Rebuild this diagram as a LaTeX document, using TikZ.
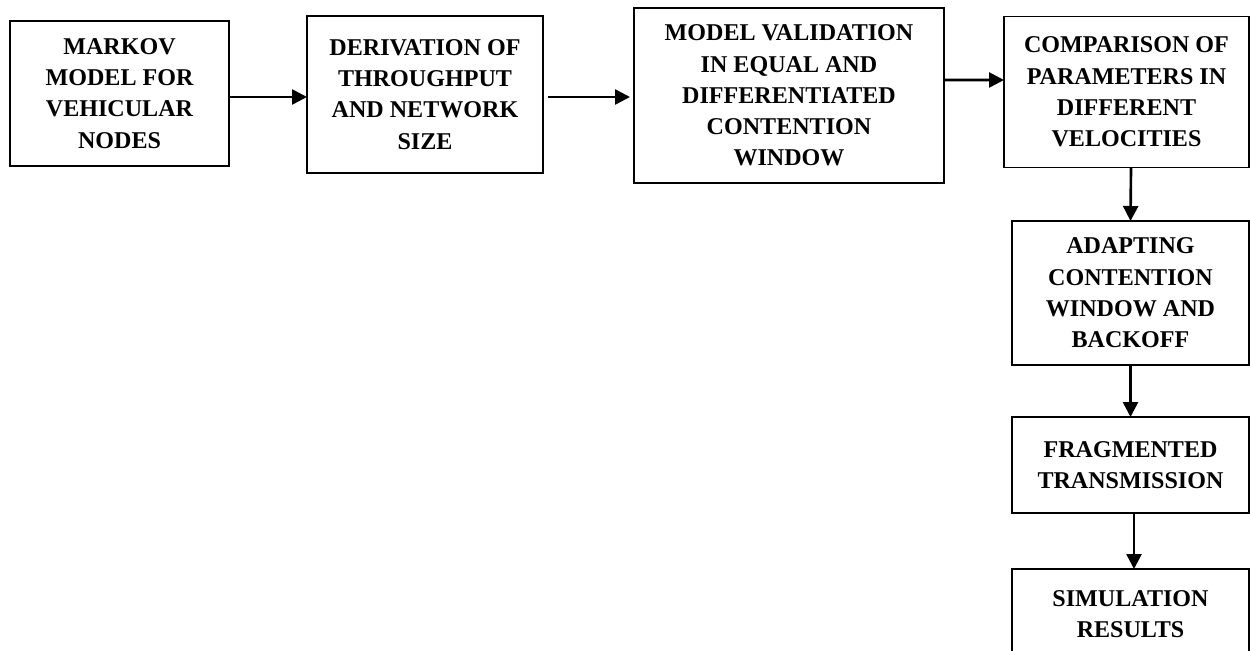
\documentclass[tikz,border=0pt]{standalone}
\usepackage{fontspec}
\setmainfont{Liberation Serif}
\usetikzlibrary{arrows.meta}

\begin{document}
\begin{tikzpicture}[>={Triangle[length=0.3cm,width=0.3cm]},
   stage/.style={draw, line width=1.1pt, align=center, inner sep=0pt, outer sep=0pt,
      font=\fontsize{13.7}{17.8}\selectfont\bfseries},
   flow/.style={->, line width=1.5pt}]
   \useasboundingbox (0,0) rectangle (25,-13.02);
   % top row
   \node[stage, minimum width=4.38cm, minimum height=2.9cm] (markov) at (2.39,-1.87) {MARKOV\\MODEL FOR\\VEHICULAR\\NODES};
   \node[stage, minimum width=4.72cm, minimum height=3.14cm] (deriv) at (8.5,-1.89) {DERIVATION OF\\THROUGHPUT\\AND NETWORK\\SIZE};
   \node[stage, minimum width=6.2cm, minimum height=3.5cm] (valid) at (15.78,-1.91) {MODEL VALIDATION\\IN EQUAL AND\\DIFFERENTIATED\\CONTENTION\\WINDOW};
   \node[stage, minimum width=4.9cm, minimum height=3.02cm] (comp) at (22.53,-1.84) {COMPARISON OF\\PARAMETERS IN\\DIFFERENT\\VELOCITIES};
   % right column
   \node[stage, minimum width=4.74cm, minimum height=2.88cm] (adapt) at (22.61,-5.86) {ADAPTING\\CONTENTION\\WINDOW AND\\BACKOFF};
   \node[stage, minimum width=4.74cm, minimum height=1.92cm] (frag) at (22.61,-9.30) {FRAGMENTED\\TRANSMISSION};
   \node[stage, minimum width=4.74cm, minimum height=1.8cm] (sim) at (22.61,-12.28) {SIMULATION\\RESULTS};

   \draw[flow] ([yshift=-0.07cm]markov.east) -- ([yshift=-0.05cm]deriv.west);
   \draw[flow] ([xshift=0.1cm,yshift=-0.05cm]deriv.east) -- ([xshift=-0.08cm,yshift=-0.03cm]valid.west);
   \draw[flow] ([yshift=0.31cm]valid.east) -- ([yshift=0.24cm]comp.west);
   \draw[flow] ([xshift=0.09cm]comp.south) -- (adapt.north);
   \draw[flow] (adapt.south) -- (frag.north);
   \draw[flow] ([xshift=0.07cm]frag.south) -- ([xshift=0.07cm]sim.north);
\end{tikzpicture}
\end{document}
